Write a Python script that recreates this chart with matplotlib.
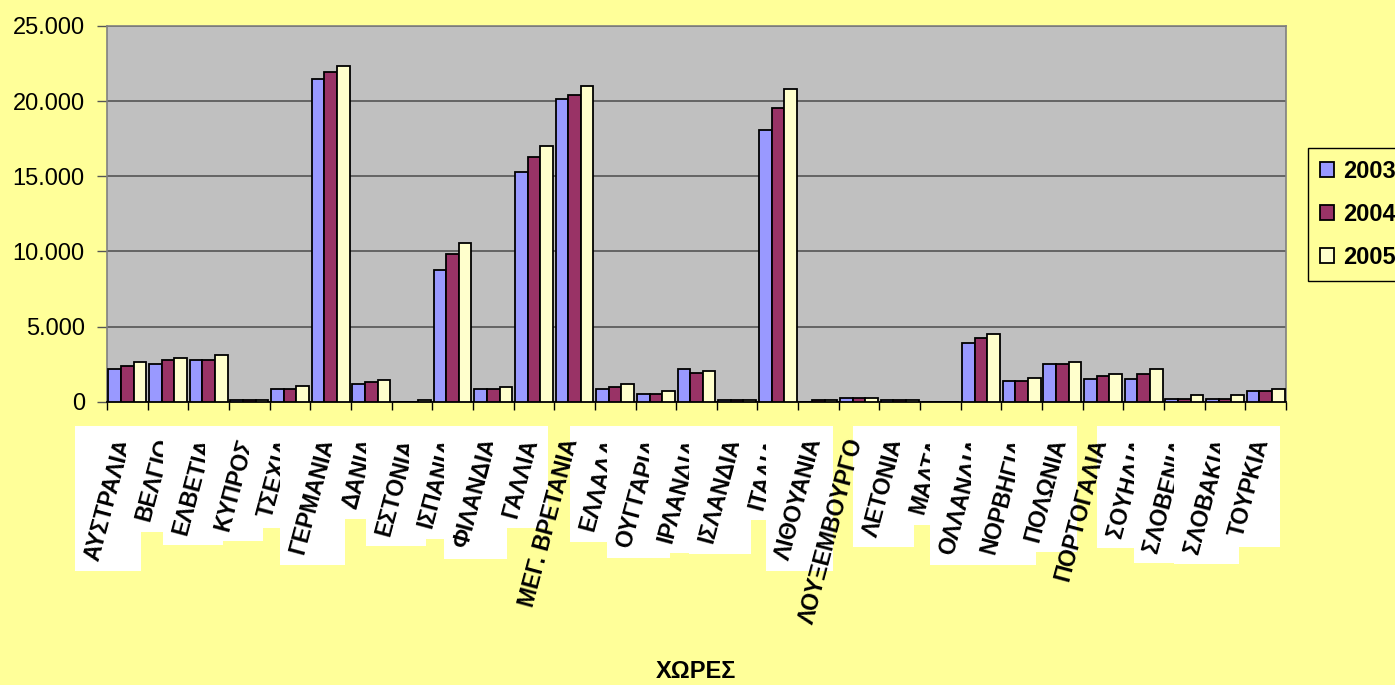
import matplotlib
matplotlib.use("Agg")
import matplotlib.pyplot as plt
import numpy as np
from matplotlib.patches import Rectangle
from matplotlib.transforms import IdentityTransform, blended_transform_factory, offset_copy

countries = ["ΑΥΣΤΡΑΛΙΑ", "ΒΕΛΓΙΟ", "ΕΛΒΕΤΙΑ", "ΚΥΠΡΟΣ", "ΤΣΕΧΙΑ", "ΓΕΡΜΑΝΙΑ", "ΔΑΝΙΑ",
             "ΕΣΤΟΝΙΑ", "ΙΣΠΑΝΙΑ", "ΦΙΛΑΝΔΙΑ", "ΓΑΛΛΙΑ", "ΜΕΓ. ΒΡΕΤΑΝΙΑ", "ΕΛΛΑΔΑ",
             "ΟΥΓΓΑΡΙΑ", "ΙΡΛΑΝΔΙΑ", "ΙΣΛΑΝΔΙΑ", "ΙΤΑΛΙΑ", "ΛΙΘΟΥΑΝΙΑ", "ΛΟΥΞΕΜΒΟΥΡΓΟ",
             "ΛΕΤΟΝΙΑ", "ΜΑΛΤΑ", "ΟΛΛΑΝΔΙΑ", "ΝΟΡΒΗΓΙΑ", "ΠΟΛΩΝΙΑ", "ΠΟΡΤΟΓΑΛΙΑ",
             "ΣΟΥΗΔΙΑ", "ΣΛΟΒΕΝΙΑ", "ΣΛΟΒΑΚΙΑ", "ΤΟΥΡΚΙΑ"]

v2003 = [2190, 2500, 2770, 120, 860, 21470, 1175, 0, 8780, 845, 15270, 20130, 845,
         530, 2180, 120, 18070, 0, 250, 100, 0, 3930, 1400, 2490, 1530, 1530, 200, 200, 690]
v2004 = [2350, 2790, 2770, 120, 860, 21910, 1330, 0, 9820, 845, 16310, 20440, 1000,
         530, 1890, 120, 19530, 110, 250, 100, 0, 4220, 1400, 2490, 1730, 1870, 200, 200, 690]
v2005 = [2640, 2925, 3080, 120, 1020, 22360, 1460, 100, 10560, 1000, 17040, 21000, 1180,
         710, 2020, 120, 20840, 110, 220, 100, 0, 4510, 1555, 2620, 1870, 2180, 420, 420, 845]

series_names = ["2003", "2004", "2005"]
ytick_values = [0, 5000, 10000, 15000, 20000, 25000]
ytick_labels = ["0", "5.000", "10.000", "15.000", "20.000", "25.000"]
no_box_labels = ["ΜΕΓ. ΒΡΕΤΑΝΙΑ", "ΛΟΥΞΕΜΒΟΥΡΓΟ", "ΠΟΡΤΟΓΑΛΙΑ"]

colors = ["#9999FF", "#993366", "#FFFFCC"]
bg = "#FFFF99"

plt.rcParams['font.family'] = ['Liberation Sans', 'DejaVu Sans']

W, H = 1395, 685
fig = plt.figure(figsize=(W / 100, H / 100), dpi=100, facecolor=bg)
ax = fig.add_axes([107 / W, 1 - 401.7 / H, (1286 - 107) / W, (401.7 - 26) / H])
ax.set_facecolor("#C0C0C0")

x = np.arange(len(countries))
bw = 0.31
for k, (vals, name) in enumerate(zip([v2003, v2004, v2005], series_names)):
    ax.bar(x + (k - 1) * bw, vals, width=bw, color=colors[k], edgecolor="black",
           linewidth=1.3, label=name, zorder=3)

ax.set_xlim(-0.5, len(countries) - 0.5)
ax.set_ylim(0, 25000)
ax.set_yticks(ytick_values)
ax.set_yticklabels(ytick_labels, fontsize=17)
ax.yaxis.grid(True, color="#555555", linewidth=1.2, zorder=1)
ax.set_axisbelow(True)
ax.tick_params(axis="y", direction="out", length=7, width=1, color="#555555", pad=9)
ax.set_xticks(x)
ax.set_xticklabels([""] * len(countries))
ax.tick_params(axis="x", which="major", length=0)
ax.set_xticks(np.arange(len(countries) + 1) - 0.5, minor=True)
ax.tick_params(axis="x", which="minor", direction="out", length=6, width=1, color="black")
for s in ["left", "top", "right"]:
    ax.spines[s].set_color("#808080")
    ax.spines[s].set_linewidth(1.2)
ax.spines["bottom"].set_color("black")
ax.spines["bottom"].set_linewidth(1.3)

# category labels
trans = blended_transform_factory(ax.transData, ax.transAxes)
trans = offset_copy(trans, fig=fig, x=-3, y=-37, units="dots")
texts = []
for i, c in enumerate(countries):
    t = ax.text(i, 0, c, transform=trans, rotation=75, rotation_mode="anchor",
                ha="right", va="center", fontsize=16.5, fontweight="bold",
                clip_on=False, zorder=20 + 2 * i + 1)
    if c in no_box_labels:
        t.set_zorder(200)
    texts.append(t)

fig.canvas.draw()
renderer = fig.canvas.get_renderer()
for i, (c, t) in enumerate(zip(countries, texts)):
    if c in no_box_labels:
        continue
    bb = t.get_window_extent(renderer)
    top = H - 426
    rect = Rectangle((bb.x0 - 6, bb.y0 - 8), bb.width + 12, top - (bb.y0 - 8),
                     transform=IdentityTransform(), facecolor="white",
                     edgecolor="none", clip_on=False, zorder=20 + 2 * i)
    ax.add_artist(rect)

fig.text(696 / W, 1 - 671 / H, "ΧΩΡΕΣ", ha="center", va="center",
         fontsize=17, fontweight="bold")

leg = fig.legend(loc="upper left", bbox_to_anchor=(1308 / W, 1 - 148 / H),
                 bbox_transform=fig.transFigure, borderaxespad=0, frameon=True,
                 fancybox=False, facecolor=bg, edgecolor="black",
                 prop={"size": 17, "weight": "bold"}, handlelength=0.6,
                 handleheight=0.6, handletextpad=0.4, labelspacing=0.85,
                 borderpad=0.5)
leg.get_frame().set_linewidth(1.0)
leg.get_frame().set_alpha(None)

fig.savefig("out.png", dpi=100, facecolor=bg)
